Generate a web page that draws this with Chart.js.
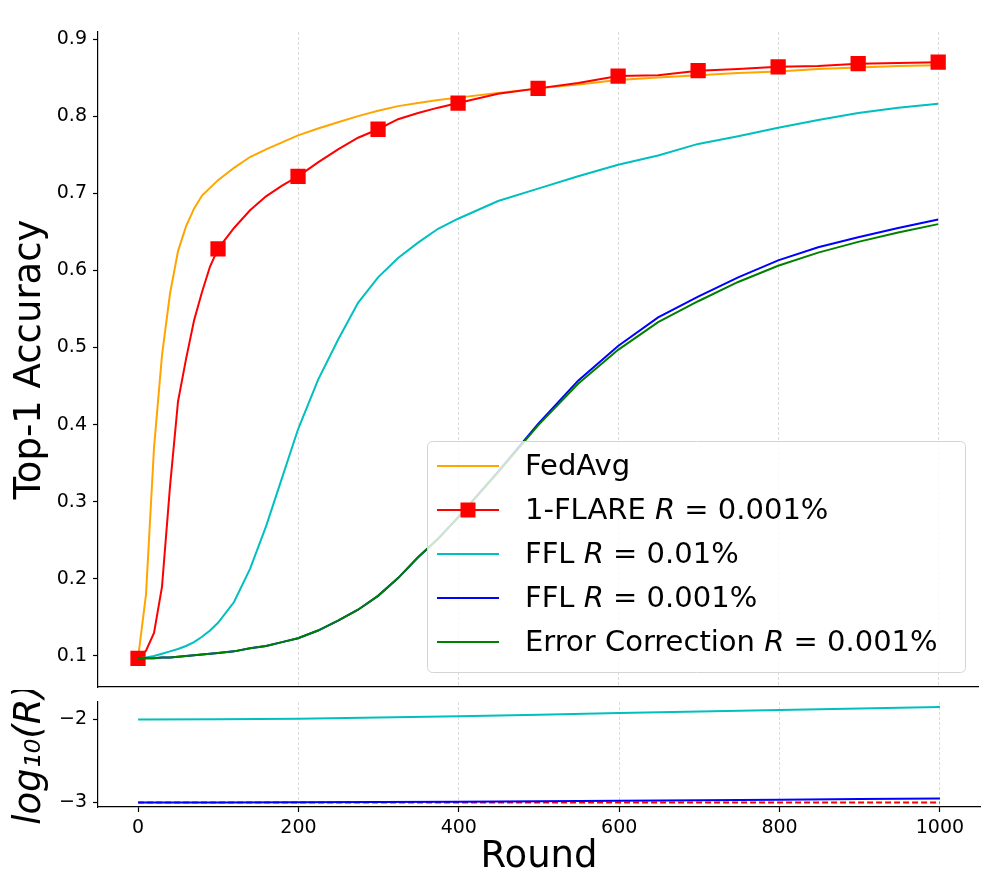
<!DOCTYPE html>
<html>
<head>
<meta charset="utf-8">
<title>Top-1 accuracy vs round</title>
<script src="https://cdn.jsdelivr.net/npm/chart.js@4.4.0/dist/chart.umd.min.js"></script>
<style>
  html, body { margin: 0; padding: 0; background: #fff; }
  #wrap { position: relative; width: 989px; height: 890px; }
  .box { position: absolute; left: 0; width: 989px; }
  #topBox { top: 0; height: 700px; }
  #botBox { top: 690px; height: 200px; }
</style>
</head>
<body>
<div id="wrap">
  <div class="box" id="topBox"><canvas id="accChart"></canvas></div>
  <div class="box" id="botBox"><canvas id="rateChart"></canvas></div>
</div>
<script>
// ---- data ----
const rounds = [0, 10, 20, 30, 40, 50, 60, 70, 80, 90, 100, 120, 140, 160, 180, 200, 225, 250, 275, 300,
                325, 350, 375, 400, 450, 500, 550, 600, 650, 700, 750, 800, 850, 900, 950, 1000];

const fedAvg = [0.097, 0.180, 0.370, 0.490, 0.570, 0.625, 0.657, 0.680, 0.697, 0.707, 0.717, 0.733, 0.747, 0.757, 0.766, 0.775,
                0.784, 0.792, 0.800, 0.807, 0.813, 0.817, 0.821, 0.824, 0.830, 0.836, 0.841, 0.847, 0.850, 0.853, 0.856, 0.858,
                0.861, 0.863, 0.865, 0.866];
const flare = [0.097, 0.107, 0.130, 0.190, 0.320, 0.430, 0.485, 0.535, 0.572, 0.605, 0.628, 0.655, 0.678, 0.696, 0.710, 0.722,
               0.740, 0.757, 0.772, 0.783, 0.796, 0.804, 0.811, 0.817, 0.829, 0.836, 0.843, 0.852, 0.853, 0.859, 0.861, 0.864,
               0.865, 0.868, 0.869, 0.870];
const fflHigh = [0.097, 0.098, 0.100, 0.103, 0.106, 0.109, 0.113, 0.118, 0.125, 0.133, 0.143, 0.170, 0.213, 0.268, 0.331, 0.394,
                 0.458, 0.510, 0.558, 0.591, 0.616, 0.636, 0.654, 0.667, 0.690, 0.706, 0.722, 0.737, 0.749, 0.764, 0.774, 0.785,
                 0.795, 0.804, 0.811, 0.816];
const fflLow = [0.097, 0.097, 0.097, 0.098, 0.098, 0.099, 0.100, 0.101, 0.102, 0.103, 0.104, 0.106, 0.110, 0.113, 0.118, 0.123,
                0.133, 0.146, 0.160, 0.178, 0.201, 0.228, 0.252, 0.280, 0.339, 0.401, 0.457, 0.502, 0.539, 0.566, 0.591, 0.613,
                0.630, 0.643, 0.655, 0.666];
const errCorr = [0.097, 0.097, 0.097, 0.098, 0.098, 0.099, 0.100, 0.101, 0.102, 0.103, 0.104, 0.106, 0.110, 0.113, 0.118, 0.123,
                 0.133, 0.146, 0.160, 0.178, 0.201, 0.228, 0.252, 0.279, 0.338, 0.399, 0.453, 0.497, 0.533, 0.560, 0.585, 0.606,
                 0.623, 0.637, 0.649, 0.660];

const rateRounds = [0, 100, 200, 300, 400, 500, 600, 700, 800, 900, 1000];
const fflHighRate = [-2.0, -1.997, -1.99, -1.977, -1.962, -1.943, -1.922, -1.904, -1.886, -1.868, -1.85];
const fflLowRate = [-3.0, -2.999, -2.997, -2.994, -2.99, -2.985, -2.98, -2.974, -2.967, -2.959, -2.951];
const flareRate = [-3, -3, -3, -3, -3, -3, -3, -3, -3, -3, -3];

const roundTicks = [0, 200, 400, 600, 800, 1000];
const accTicks = [0.1, 0.2, 0.3, 0.4, 0.5, 0.6, 0.7, 0.8, 0.9];
const rateTicks = [-3, -2];

const seriesLabels = ['FedAvg', '1-FLARE R = 0.001%', 'FFL R = 0.01%', 'FFL R = 0.001%', 'Error Correction R = 0.001%'];

Chart.defaults.font.family = "'DejaVu Sans', sans-serif";
Chart.defaults.color = '#000';

const pts = (xs, ys) => xs.map((x, i) => ({ x: x, y: ys[i] }));

// draw a label where a lone "R" is set in italic, like matplotlib mathtext
function drawRich(ctx, text, x, y, size) {
    const parts = text.split(/(\bR\b)/);
    parts.forEach(p => {
        if (!p) return;
        ctx.font = (p === 'R' ? 'italic ' : '') + size + "px 'DejaVu Sans'";
        ctx.fillText(p, x, y);
        x += ctx.measureText(p).width;
    });
}

// legend drawn inside the plot area (lower right)
const legendBox = {
    id: 'legendBox',
    afterDatasetsDraw(chart, args, opts) {
        const ctx = chart.ctx;
        const b = opts.box;
        ctx.save();
        ctx.beginPath();
        ctx.roundRect(b.left + 0.5, b.top + 0.5, b.right - b.left, b.bottom - b.top, 5);
        ctx.fillStyle = 'rgba(255,255,255,0.8)';
        ctx.fill();
        ctx.strokeStyle = '#d4d4d4';
        ctx.lineWidth = 1;
        ctx.stroke();
        ctx.textBaseline = 'middle';
        chart.data.datasets.forEach((ds, i) => {
            const y = b.top + opts.firstRow + i * opts.rowGap;
            ctx.strokeStyle = ds.borderColor;
            ctx.lineWidth = 2;
            ctx.beginPath();
            ctx.moveTo(opts.handleX1, y);
            ctx.lineTo(opts.handleX2, y);
            ctx.stroke();
            if (ds.markEvery) {
                const s = opts.markerSize;
                ctx.fillStyle = ds.borderColor;
                ctx.fillRect((opts.handleX1 + opts.handleX2) / 2 - s / 2, y - s / 2, s, s);
            }
            ctx.fillStyle = '#000';
            drawRich(ctx, ds.label, opts.textX, y + 1, opts.fontSize);
        });
        ctx.restore();
    }
};

const xGridColor = c => (c.tick && c.tick.value === 0) ? 'rgba(0,0,0,0)' : 'rgba(190,190,190,0.55)';

// keep the plot areas exactly where matplotlib put them
const fixY = s => { s.width = 98; s.paddingTop = 0; s.paddingBottom = 0; };
const fixX = h => s => { s.height = h; s.paddingLeft = 0; s.paddingRight = 0; };

// ---- top panel: accuracy ----
new Chart(document.getElementById('accChart'), {
    type: 'line',
    data: {
        datasets: [
            { label: seriesLabels[0], data: pts(rounds, fedAvg), borderColor: '#ffa500', order: 4 },
            {
                label: seriesLabels[1], data: pts(rounds, flare), borderColor: '#ff0000', backgroundColor: '#ff0000', order: 3,
                markEvery: 100,
                pointStyle: 'rect',
                pointRadius: c => (c.raw && c.raw.x % 100 === 0) ? 10.8 : 0,
                pointBorderWidth: 0
            },
            { label: seriesLabels[2], data: pts(rounds, fflHigh), borderColor: '#00bfbf', order: 2 },
            { label: seriesLabels[3], data: pts(rounds, fflLow), borderColor: '#0000ff', order: 1 },
            { label: seriesLabels[4], data: pts(rounds, errCorr), borderColor: '#008000', order: 0 }
        ]
    },
    options: {
        responsive: true,
        maintainAspectRatio: false,
        animation: false,
        elements: {
            line: { borderWidth: 2, tension: 0, fill: false },
            point: { radius: 0 }
        },
        layout: { padding: { top: 32, right: 9, left: 0, bottom: 0 } },
        plugins: {
            legend: { display: false },
            tooltip: { enabled: false },
            legendBox: {
                box: { left: 427, top: 441, right: 965, bottom: 672 },
                firstRow: 25,
                rowGap: 44,
                handleX1: 437,
                handleX2: 499,
                markerSize: 15,
                textX: 525,
                fontSize: 29
            }
        },
        scales: {
            x: {
                type: 'linear',
                min: -50,
                max: 1050,
                afterBuildTicks: s => { s.ticks = roundTicks.map(v => ({ value: v })); },
                afterFit: fixX(13),
                ticks: { display: false },
                grid: { color: xGridColor, lineWidth: 1, drawTicks: false },
                border: { display: true, color: '#000', width: 1.2, dash: [3, 2] }
            },
            y: {
                min: 0.0598,
                max: 0.9091,
                afterBuildTicks: s => { s.ticks = accTicks.map(v => ({ value: v })); },
                afterFit: fixY,
                ticks: {
                    font: { size: 19 },
                    padding: 6,
                    callback: v => v.toFixed(1)
                },
                grid: { drawOnChartArea: false, drawTicks: true, tickLength: 5, tickColor: '#000', tickWidth: 1.2 },
                border: { display: true, color: '#000', width: 1.2 },
                title: {
                    display: true,
                    text: 'Top-1 Accuracy',
                    font: { size: 37 },
                    padding: { top: 8, bottom: 0 }
                }
            }
        }
    },
    plugins: [legendBox]
});

// ---- bottom panel: log10 of the rate ----
new Chart(document.getElementById('rateChart'), {
    type: 'line',
    data: {
        datasets: [
            { label: '1-FLARE', data: pts(rateRounds, flareRate), borderColor: '#ff0000', borderDash: [6, 3], order: 2 },
            { label: 'FFL 0.01%', data: pts(rateRounds, fflHighRate), borderColor: '#00bfbf', order: 1 },
            { label: 'FFL 0.001%', data: pts(rateRounds, fflLowRate), borderColor: '#0000ff', order: 0 }
        ]
    },
    options: {
        responsive: true,
        maintainAspectRatio: false,
        animation: false,
        elements: {
            line: { borderWidth: 2, tension: 0, fill: false },
            point: { radius: 0 }
        },
        layout: { padding: { top: 12, right: 9, left: 0, bottom: 0 } },
        plugins: { legend: { display: false }, tooltip: { enabled: false } },
        scales: {
            x: {
                type: 'linear',
                min: -50,
                max: 1050,
                afterBuildTicks: s => { s.ticks = roundTicks.map(v => ({ value: v })); },
                afterFit: fixX(83),
                ticks: { font: { size: 19 }, padding: 5, maxRotation: 0, callback: v => String(v) },
                grid: { color: xGridColor, lineWidth: 1, drawTicks: true, tickLength: 5, tickColor: '#000', tickWidth: 1.2 },
                border: { display: true, color: '#000', width: 1.2, dash: [3, 2] },
                title: {
                    display: true,
                    text: 'Round',
                    font: { size: 37 },
                    padding: { top: 0, bottom: 10 }
                }
            },
            y: {
                min: -3.054,
                max: -1.789,
                afterBuildTicks: s => { s.ticks = rateTicks.map(v => ({ value: v })); },
                afterFit: fixY,
                ticks: {
                    font: { size: 19 },
                    padding: 6,
                    callback: v => String(v).replace('-', '\u2212')
                },
                grid: { drawOnChartArea: false, drawTicks: true, tickLength: 5, tickColor: '#000', tickWidth: 1.2 },
                border: { display: true, color: '#000', width: 1.2 },
                title: {
                    display: true,
                    text: 'log\u2081\u2080(R)',
                    font: { size: 37, style: 'italic' },
                    padding: { top: 8, bottom: 0 }
                }
            }
        }
    }
});
</script>
</body>
</html>
